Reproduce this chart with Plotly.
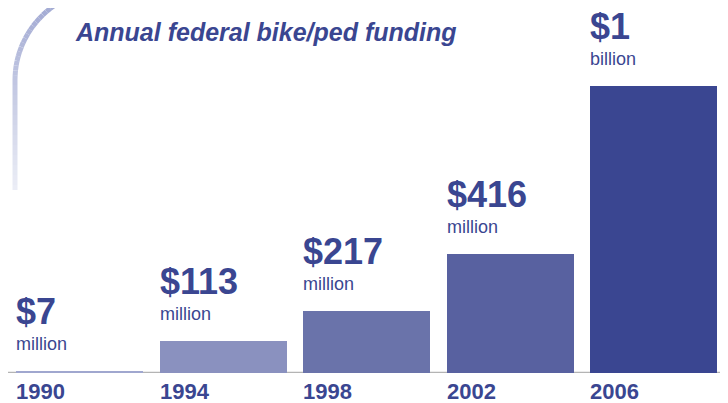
import math
import plotly.graph_objects as go

# chart data
years = ["1990", "1994", "1998", "2002", "2006"]
funding_millions = [7, 113, 217, 416, 1000]
amount_labels = ["$7", "$113", "$217", "$416", "$1"]
unit_labels = ["million", "million", "million", "million", "billion"]
bar_colors = ["#a0a7cf", "#8a91bf", "#6a73aa", "#5861a0", "#3a4691"]

TEXT_COLOR = "#3a4691"
FONT = "Liberation Sans, Arial, Helvetica, sans-serif"
OFF = 8          # page body margin, the figure sits 8px in from the window corner
W, H = 728 - OFF, 403 - OFF
PLOT_H = 373 - OFF   # plot area height in px (baseline)
PITCH = 143.5        # px between bar centres
BAR_W = 127 / PITCH
FIRST_X = 79.5 - OFF  # px centre of first bar
PX_PER_UNIT = 287 / 1000.0

xs = list(range(len(years)))

fig = go.Figure()
fig.add_trace(go.Bar(
    x=xs, y=funding_millions,
    width=BAR_W,
    marker=dict(color=bar_colors, line=dict(width=0)),
    hoverinfo="skip",
    showlegend=False,
))

annotations = []
for x, yr, val, amt, unit in zip(xs, years, funding_millions, amount_labels, unit_labels):
    left = x - BAR_W / 2
    # unit text just above the bar
    annotations.append(dict(
        x=left, y=val, xref="x", yref="y", xanchor="left", yanchor="bottom",
        xshift=-2, yshift=15, showarrow=False, text=unit,
        font=dict(family=FONT, size=18, color=TEXT_COLOR),
    ))
    # dollar amount above the unit
    annotations.append(dict(
        x=left, y=val, xref="x", yref="y", xanchor="left", yanchor="bottom",
        xshift=-2, yshift=37, showarrow=False, text="<b>%s</b>" % amt,
        font=dict(family=FONT, size=36, color=TEXT_COLOR),
    ))
    # year under the baseline
    annotations.append(dict(
        x=left, y=0, xref="x", yref="paper", xanchor="left", yanchor="top",
        xshift=-2, yshift=-4, showarrow=False, text="<b>%s</b>" % yr,
        font=dict(family=FONT, size=22, color=TEXT_COLOR),
    ))

# title
annotations.append(dict(
    x=(73 - OFF) / W, y=1 - (32 - OFF) / PLOT_H, xref="paper", yref="paper",
    xanchor="left", yanchor="middle", showarrow=False,
    text="<b><i>Annual federal bike/ped funding</i></b>",
    font=dict(family=FONT, size=25, color=TEXT_COLOR),
))

shapes = []
# baseline
shapes.append(dict(
    type="line", xref="paper", yref="y", x0=0, x1=1, y0=0, y1=0,
    line=dict(color="#b4b4b4", width=2.5), layer="below",
))


# decorative arc at top-left, fading downward (window pixel coords)
def px_to_paper(px, py):
    return (px - OFF) / W, 1 - (py - OFF) / PLOT_H


pts = []
cx, cy, rx, ry = 110, 80, 95, 92
for i in range(25):
    a = math.pi + math.radians(72) * (1 - i / 24)
    pts.append((cx + rx * math.cos(a), cy + ry * math.sin(a)))
for i in range(1, 23):
    pts.append((15, 80 + i * 5))


def mix(c1, c2, f):
    return "rgb(%d,%d,%d)" % tuple(round(a + (b - a) * f) for a, b in zip(c1, c2))


top_c, bot_c = (160, 168, 210), (236, 238, 246)
for i in range(len(pts) - 1):
    (x0, y0), (x1, y1) = pts[i], pts[i + 1]
    f = max(0, min(1, (y0 + y1) / 2 / 190))
    px0, py0 = px_to_paper(x0, y0)
    px1, py1 = px_to_paper(x1, y1)
    shapes.append(dict(
        type="line", xref="paper", yref="paper", x0=px0, y0=py0, x1=px1, y1=py1,
        line=dict(color=mix(top_c, bot_c, f), width=5),
    ))

fig.update_layout(
    width=W, height=H,
    margin=dict(l=0, r=0, t=0, b=H - PLOT_H, pad=0),
    paper_bgcolor="white", plot_bgcolor="white",
    xaxis=dict(range=[-FIRST_X / PITCH, (W - FIRST_X) / PITCH], visible=False, fixedrange=True),
    yaxis=dict(range=[0, PLOT_H / PX_PER_UNIT], visible=False, fixedrange=True),
    annotations=annotations,
    shapes=shapes,
    bargap=0,
)

fig.write_html("out.html", config=dict(displayModeBar=False))
